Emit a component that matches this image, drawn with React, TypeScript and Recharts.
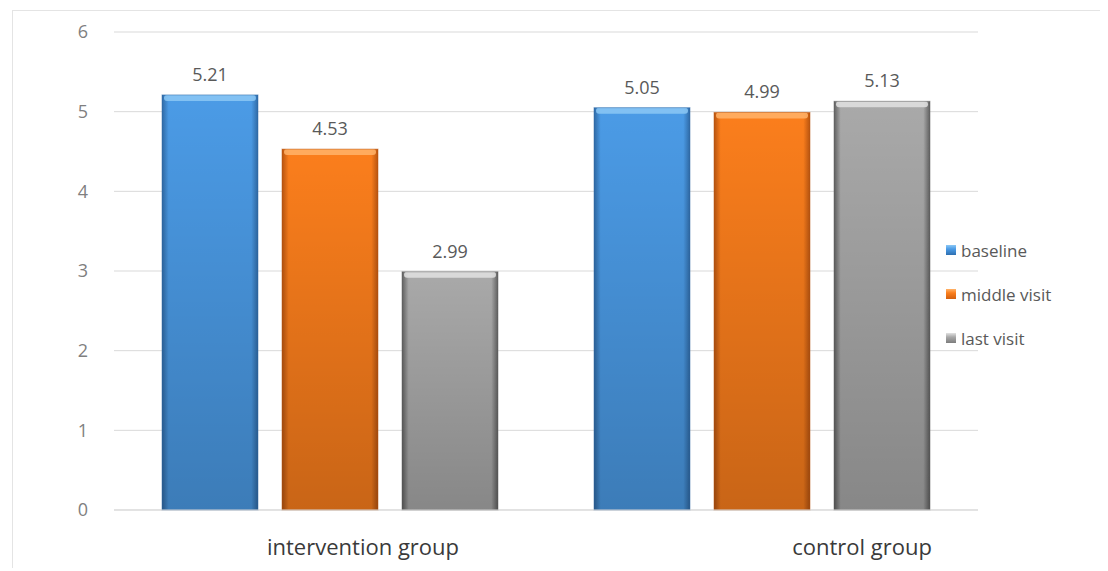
import React from "react";
import { Bar, BarChart, CartesianGrid, LabelList, XAxis, YAxis } from "recharts";

const groups = ["intervention group", "control group"];
const baseline = [5.21, 5.05];
const middleVisit = [4.53, 4.99];
const lastVisit = [2.99, 5.13];
const yTicks = [0, 1, 2, 3, 4, 5, 6];

const data = groups.map((g, i) => ({
  group: g,
  baseline: baseline[i],
  middle: middleVisit[i],
  last: lastVisit[i],
}));

const series = [
  { key: "baseline", name: "baseline", id: "blue", edge: "#2f6aa6", mid: "#4b9be6", top: "#8cc8f5", bottom: "#2e6fb0" },
  { key: "middle", name: "middle visit", id: "orange", edge: "#b85410", mid: "#fb7e1c", top: "#ffb36a", bottom: "#d2600f" },
  { key: "last", name: "last visit", id: "gray", edge: "#606060", mid: "#a9a9a9", top: "#e2e2e2", bottom: "#7d7d7d" },
];

// nudges for the category text, the original labels sit right of the bar groups
const labelShift = [33, 100];

const font = "'Open Sans', 'DejaVu Sans', sans-serif";

const makeShape = (s: (typeof series)[number]) => (props: any) => {
  const { x, y, width, height } = props;
  if (!height || height <= 0) return null;
  return (
    <g>
      <rect x={x} y={y} width={width} height={height} fill={`url(#h-${s.id})`} />
      <rect x={x} y={y} width={width} height={height} fill="url(#shade)" />
      <rect x={x + 2} y={y} width={width - 4} height={6} rx={3} fill={s.top} opacity={0.85} />
      <rect x={x} y={y} width={width} height={height} fill="none" stroke={s.edge} strokeOpacity={0.5} />
    </g>
  );
};

const CategoryTick = (props: any) => {
  const { x, y, payload, index } = props;
  return (
    <text
      x={x + (labelShift[index] ?? 0)}
      y={y + 37}
      textAnchor="middle"
      fontSize={22}
      fill="#3a3a3a"
      fontFamily={font}
    >
      {payload.value}
    </text>
  );
};

const LegendBox = () => (
  <div
    style={{
      position: "absolute",
      left: 938,
      top: 220,
      fontFamily: font,
      fontSize: 17,
      color: "#595959",
    }}
  >
    {series.map((s) => (
      <div key={s.key} style={{ display: "flex", alignItems: "center", height: 44 }}>
        <span
          style={{
            display: "inline-block",
            width: 10,
            height: 10,
            marginRight: 5,
            background: `linear-gradient(${s.top}, ${s.mid} 40%, ${s.bottom})`,
          }}
        />
        {s.name}
      </div>
    ))}
  </div>
);

export default function App() {
  return (
    <div
      style={{
        position: "relative",
        width: 1100,
        height: 560,
        background: "#fff",
      }}
    >
      <div
        style={{
          position: "absolute",
          left: 4,
          top: 2,
          width: 1100,
          height: 560,
          borderLeft: "1px solid #e4e4e4",
          borderTop: "1px solid #e4e4e4",
        }}
      />
      <BarChart
        width={1100}
        height={560}
        data={data}
        margin={{ top: 24, right: 130, bottom: 0, left: 0 }}
        barCategoryGap={48}
        barGap={24}
      >
        <defs>
          {series.map((s) => (
            <linearGradient key={s.id} id={`h-${s.id}`} x1="0" y1="0" x2="1" y2="0">
              <stop offset="0%" stopColor={s.edge} />
              <stop offset="7%" stopColor={s.mid} />
              <stop offset="93%" stopColor={s.mid} />
              <stop offset="100%" stopColor={s.edge} />
            </linearGradient>
          ))}
          <linearGradient id="shade" x1="0" y1="0" x2="0" y2="1">
            <stop offset="0%" stopColor="#000" stopOpacity={0} />
            <stop offset="100%" stopColor="#000" stopOpacity={0.2} />
          </linearGradient>
        </defs>
        <CartesianGrid vertical={false} stroke="#d9d9d9" />
        <XAxis
          dataKey="group"
          axisLine={{ stroke: "#d9d9d9" }}
          tickLine={false}
          height={58}
          tick={<CategoryTick />}
        />
        <YAxis
          domain={[0, 6]}
          ticks={yTicks}
          width={106}
          axisLine={false}
          tickLine={false}
          tickSize={0}
          tickMargin={26}
          tick={{ fontSize: 18, fill: "#7f7f7f", fontFamily: font }}
        />
        {series.map((s) => (
          <Bar
            key={s.key}
            dataKey={s.key}
            name={s.name}
            fill={s.mid}
            shape={makeShape(s)}
            isAnimationActive={false}
          >
            <LabelList
              dataKey={s.key}
              position="top"
              offset={14}
              fontSize={18}
              fill="#595959"
              fontFamily={font}
            />
          </Bar>
        ))}
      </BarChart>
      <LegendBox />
    </div>
  );
}
